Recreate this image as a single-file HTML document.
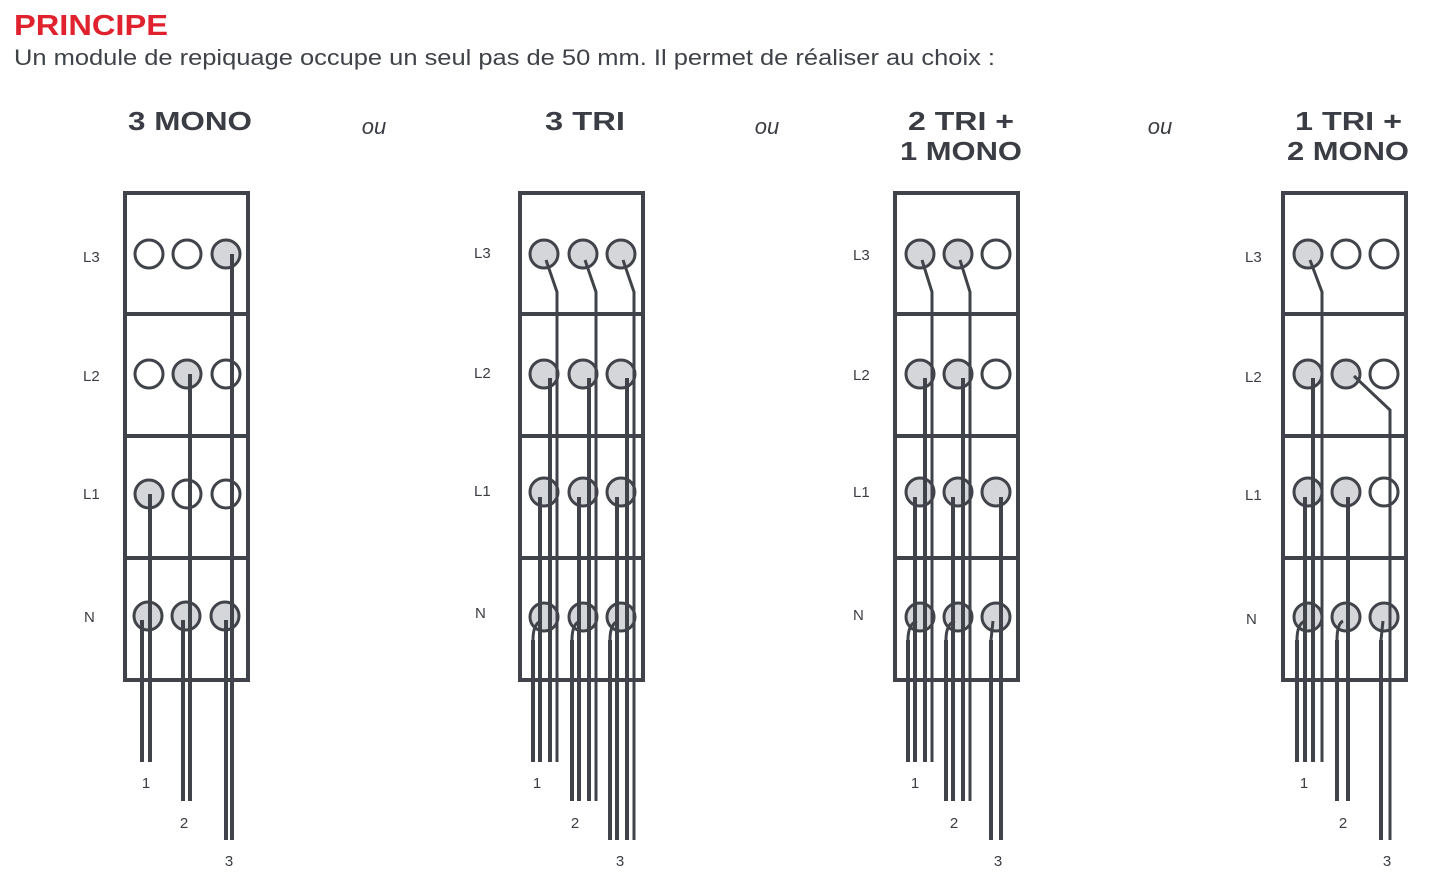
<!DOCTYPE html>
<html><head><meta charset="utf-8"><style>
body{margin:0;background:#fff;width:1435px;height:888px;overflow:hidden;font-family:"Liberation Sans",sans-serif}
</style></head><body>
<svg width="1435" height="888" viewBox="0 0 1435 888" xmlns="http://www.w3.org/2000/svg" font-family="Liberation Sans, sans-serif">
<text x="14" y="35" font-size="29" font-weight="bold" fill="#e0222e" textLength="154" lengthAdjust="spacingAndGlyphs">PRINCIPE</text>
<text x="14" y="65" font-size="22" fill="#3f4249" textLength="981" lengthAdjust="spacingAndGlyphs">Un module de repiquage occupe un seul pas de 50 mm. Il permet de réaliser au choix :</text>
<g font-size="26" font-weight="bold" fill="#3a3d44">
<text x="128" y="130" textLength="124" lengthAdjust="spacingAndGlyphs">3 MONO</text>
<text x="545" y="130" textLength="80" lengthAdjust="spacingAndGlyphs">3 TRI</text>
<text x="908" y="130" textLength="106" lengthAdjust="spacingAndGlyphs">2 TRI +</text><text x="900" y="160" textLength="122" lengthAdjust="spacingAndGlyphs">1 MONO</text>
<text x="1295" y="130" textLength="107" lengthAdjust="spacingAndGlyphs">1 TRI +</text><text x="1287" y="160" textLength="122" lengthAdjust="spacingAndGlyphs">2 MONO</text>
</g>
<g font-size="22" font-style="italic" fill="#3a3d44" text-anchor="middle">
<text x="374" y="134">ou</text><text x="767" y="134">ou</text><text x="1160" y="134">ou</text>
</g>
<g font-size="15" fill="#3a3d44">
<text x="83" y="262">L3</text><text x="83" y="381">L2</text><text x="83" y="499">L1</text><text x="84" y="622">N</text>
<text x="474" y="258">L3</text><text x="474" y="378">L2</text><text x="474" y="496">L1</text><text x="475" y="618">N</text>
<text x="853" y="260">L3</text><text x="853" y="380">L2</text><text x="853" y="497">L1</text><text x="853" y="620">N</text>
<text x="1245" y="262">L3</text><text x="1245" y="382">L2</text><text x="1245" y="500">L1</text><text x="1246" y="624">N</text>
</g>
<g font-size="15" fill="#3a3d44" text-anchor="middle">
<text x="146" y="788">1</text><text x="184" y="828">2</text><text x="229" y="866">3</text>
<text x="537" y="788">1</text><text x="575" y="828">2</text><text x="620" y="866">3</text>
<text x="915" y="788">1</text><text x="954" y="828">2</text><text x="998" y="866">3</text>
<text x="1304" y="788">1</text><text x="1343" y="828">2</text><text x="1387" y="866">3</text>
</g>
<g fill="none" stroke="#404349" stroke-width="4">
<rect x="125" y="193" width="123" height="487"/><path d="M125 314H248M125 436H248M125 558H248"/>
<rect x="520" y="193" width="123" height="487"/><path d="M520 314H643M520 436H643M520 558H643"/>
<rect x="895" y="193" width="123" height="487"/><path d="M895 314H1018M895 436H1018M895 558H1018"/>
<rect x="1283" y="193" width="123" height="487"/><path d="M1283 314H1406M1283 436H1406M1283 558H1406"/>
</g>
<g stroke="#404349" stroke-width="3">
<circle cx="149" cy="254" r="14" fill="#fff"/><circle cx="187" cy="254" r="14" fill="#fff"/><circle cx="226" cy="254" r="14" fill="#d4d6d9"/>
<circle cx="149" cy="374" r="14" fill="#fff"/><circle cx="187" cy="374" r="14" fill="#d4d6d9"/><circle cx="226" cy="374" r="14" fill="#fff"/>
<circle cx="149" cy="494" r="14" fill="#d4d6d9"/><circle cx="187" cy="494" r="14" fill="#fff"/><circle cx="226" cy="494" r="14" fill="#fff"/>
<circle cx="148" cy="616" r="14" fill="#d4d6d9"/><circle cx="186" cy="616" r="14" fill="#d4d6d9"/><circle cx="225" cy="616" r="14" fill="#d4d6d9"/>
<g fill="#d4d6d9">
<circle cx="544" cy="254" r="14"/><circle cx="583" cy="254" r="14"/><circle cx="621" cy="254" r="14"/>
<circle cx="544" cy="374" r="14"/><circle cx="583" cy="374" r="14"/><circle cx="621" cy="374" r="14"/>
<circle cx="544" cy="492" r="14"/><circle cx="583" cy="492" r="14"/><circle cx="621" cy="492" r="14"/>
<circle cx="544" cy="617" r="14"/><circle cx="583" cy="617" r="14"/><circle cx="621" cy="617" r="14"/>
<circle cx="920" cy="254" r="14"/><circle cx="958" cy="254" r="14"/>
<circle cx="920" cy="374" r="14"/><circle cx="958" cy="374" r="14"/>
<circle cx="920" cy="492" r="14"/><circle cx="958" cy="492" r="14"/><circle cx="996" cy="492" r="14"/>
<circle cx="920" cy="617" r="14"/><circle cx="958" cy="617" r="14"/><circle cx="996" cy="617" r="14"/>
<circle cx="1308" cy="254" r="14"/>
<circle cx="1308" cy="374" r="14"/><circle cx="1346" cy="374" r="14"/>
<circle cx="1308" cy="492" r="14"/><circle cx="1346" cy="492" r="14"/>
<circle cx="1308" cy="617" r="14"/><circle cx="1346" cy="617" r="14"/><circle cx="1384" cy="617" r="14"/>
</g>
<g fill="#fff">
<circle cx="996" cy="254" r="14"/><circle cx="996" cy="374" r="14"/>
<circle cx="1346" cy="254" r="14"/><circle cx="1384" cy="254" r="14"/>
<circle cx="1384" cy="374" r="14"/><circle cx="1384" cy="492" r="14"/>
</g>
</g>
<g fill="none" stroke="#404349" stroke-width="4">
<path d="M150 494V762M142 620V762M190 374V801M183 620V801M232 254V840M226 620V840"/>
<path d="M550 378V762M540 497V762M533 640V762M589 378V801M579 497V801M572 640V801M627 378V840M617 497V840M610 640V840"/>
<path d="M925 378V762M915 497V762M908 640V762M963 378V801M953 497V801M946 640V801M1001 497V840M991 640V840"/>
<path d="M1313 378V762M1305 497V762M1297 640V762M1348 497V801M1337 640V801M1381 640V840"/>
</g>
<g fill="none" stroke="#404349" stroke-width="3">
<path d="M541 621Q533 624 533 640M580 621Q572 624 572 640M618 621Q610 624 610 640"/>
<path d="M917 621Q908 624 908 640M955 621Q946 624 946 640M993 621L991 640"/>
<path d="M1305 621Q1297 624 1297 640M1343 621Q1337 624 1337 640M1383 621L1381 640"/>
<path d="M546 260L557 292V762M585 260L596 292V801M623 260L634 292V840"/>
<path d="M922 260L932 292V762M960 260L970 292V801"/>
<path d="M1310 260L1322 292V762M1354 376L1390 410V840"/>
</g>
</svg>
</body></html>
